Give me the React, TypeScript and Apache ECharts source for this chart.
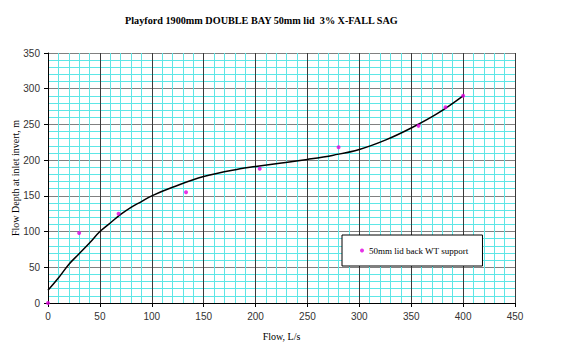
import React, { useEffect, useRef } from "react";
import * as echarts from "echarts";

const TITLE = "Playford 1900mm DOUBLE BAY 50mm lid  3% X-FALL SAG";
const X_NAME = "Flow, L/s";
const Y_NAME = "Flow Depth at inlet invert, m";
const LEGEND_NAME = "50mm lid back WT support";

// measured points
const pointFlow = [0, 30, 68, 133, 204, 280, 357, 383, 400];
const pointDepth = [0, 98, 125, 155, 188, 218, 248, 274, 290];

// trend curve
const curveFlow = [0, 10, 20, 30, 40, 50, 60, 70, 80, 90, 100, 120, 150, 185, 200, 225, 250, 275, 300, 325, 350, 375, 400];
const curveDepth = [18, 35, 54, 69, 84, 100, 112, 124, 134, 142, 150, 162, 177, 188, 191, 196, 201, 207, 215, 228, 245, 265, 290];

export default function App() {
  const ref = useRef<HTMLDivElement>(null);
  useEffect(() => {
    if (!ref.current) return;
    const chart = echarts.init(ref.current, null, { renderer: "svg" });
    const serif = "'Liberation Serif', 'Times New Roman', serif";
    const sans = "'Liberation Sans', Arial, sans-serif";
    chart.setOption({
      animation: false,
      backgroundColor: "#ffffff",
      title: {
        text: TITLE,
        left: 125,
        top: 15,
        padding: 0,
        textStyle: { fontFamily: serif, fontSize: 10.2, fontWeight: "bold", color: "#000" },
      },
      grid: { left: 48, right: 60, top: 53, bottom: 50, containLabel: false, outerBoundsMode: "none" },
      legend: {
        data: [LEGEND_NAME],
        left: 342,
        top: 235,
        orient: "vertical",
        backgroundColor: "#fff",
        borderColor: "#000",
        borderWidth: 1,
        borderRadius: 0,
        padding: [11, 14, 11, 18],
        itemWidth: 4,
        itemHeight: 4,
        icon: "circle",
        textStyle: { fontFamily: serif, fontSize: 9, color: "#000" },
      },
      xAxis: {
        type: "value",
        min: 0,
        max: 450,
        interval: 50,
        name: X_NAME,
        nameLocation: "middle",
        nameGap: 28,
        nameMoveOverlap: false,
        nameTextStyle: { fontFamily: serif, fontSize: 10, color: "#000" },
        axisLine: { show: true, onZero: false, lineStyle: { color: "#000", width: 1 } },
        axisTick: { show: true, length: 4, lineStyle: { color: "#000" } },
        axisLabel: { fontFamily: sans, fontSize: 10, color: "#333", margin: 8 },
        splitLine: { show: true, lineStyle: { color: "#3a3a3a", width: 1 } },
        minorTick: { show: false, splitNumber: 5 },
        minorSplitLine: { show: true, lineStyle: { color: "#5ee6e6", width: 1 } },
      },
      yAxis: {
        type: "value",
        min: 0,
        max: 350,
        interval: 50,
        name: Y_NAME,
        nameLocation: "middle",
        nameGap: 28,
        nameMoveOverlap: false,
        nameTextStyle: { fontFamily: serif, fontSize: 10, color: "#000" },
        axisLine: { show: true, onZero: false, lineStyle: { color: "#000", width: 1 } },
        axisTick: { show: true, length: 4, lineStyle: { color: "#000" } },
        axisLabel: { fontFamily: sans, fontSize: 10, color: "#333", margin: 8 },
        splitLine: { show: true, lineStyle: { color: "#808080", width: 1 } },
        minorTick: { show: false, splitNumber: 5 },
        minorSplitLine: { show: true, lineStyle: { color: "#5ee6e6", width: 1 } },
      },
      series: [
        {
          name: "trend",
          type: "line",
          smooth: 0.4,
          showSymbol: false,
          symbol: "none",
          data: curveFlow.map((x, i) => [x, curveDepth[i]]),
          lineStyle: { color: "#000", width: 1.5 },
          z: 3,
        },
        {
          name: LEGEND_NAME,
          type: "scatter",
          symbol: "circle",
          symbolSize: 4,
          itemStyle: { color: "#e000e0" },
          data: pointFlow.map((x, i) => [x, pointDepth[i]]),
          z: 4,
        },
      ],
    });
    return () => chart.dispose();
  }, []);
  return (
    <div
      ref={ref}
      style={{ position: "fixed", left: 0, top: 0, width: 575, height: 353 }}
    />
  );
}
